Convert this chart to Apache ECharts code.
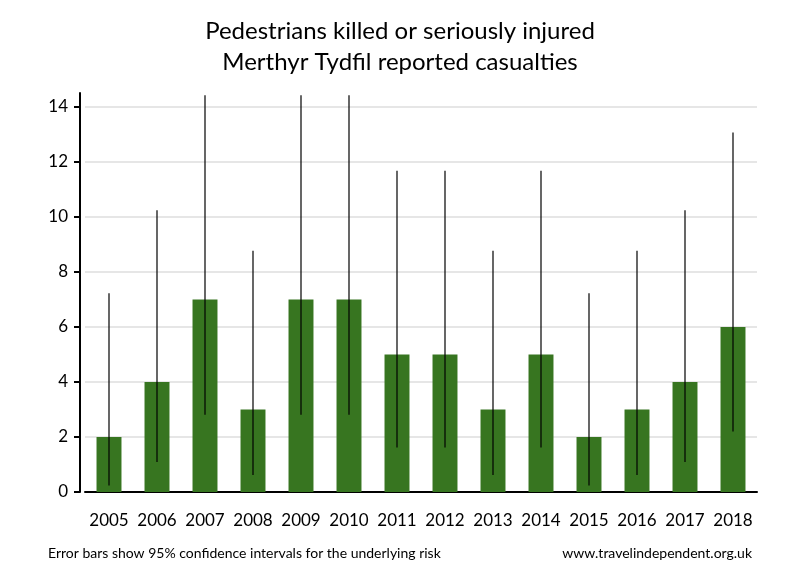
<!DOCTYPE html>
<html>
<head>
<meta charset="utf-8">
<script src="https://cdn.jsdelivr.net/npm/echarts@6/dist/echarts.min.js"></script>
<style>html,body{margin:0;padding:0;background:#fff}#c{width:800px;height:580px}</style>
</head>
<body>
<div id="c"></div>
<script>
var years = ['2005','2006','2007','2008','2009','2010','2011','2012','2013','2014','2015','2016','2017','2018'];
var casualties = [2, 4, 7, 3, 7, 7, 5, 5, 3, 5, 2, 3, 4, 6];
var ciLower = [0.24, 1.09, 2.81, 0.62, 2.81, 2.81, 1.62, 1.62, 0.62, 1.62, 0.24, 0.62, 1.09, 2.20];
var ciUpper = [7.22, 10.24, 14.42, 8.77, 14.42, 14.42, 11.67, 11.67, 8.77, 11.67, 7.22, 8.77, 10.24, 13.06];
var yTicks = [0, 2, 4, 6, 8, 10, 12, 14];
var titleLines = ['Pedestrians killed or seriously injured', 'Merthyr Tydfil reported casualties'];
var footLeft = 'Error bars show 95% confidence intervals for the underlying risk';
var footRight = 'www.travelindependent.org.uk';

var FONT = 'Lato, "Open Sans", sans-serif';
var chart = echarts.init(document.getElementById('c'), null, {renderer: 'canvas'});
var errData = years.map(function (y, i) { return [i, ciLower[i], ciUpper[i]]; });

chart.setOption({
  animation: false,
  backgroundColor: '#ffffff',
  title: [
    {text: titleLines.join('\n'), left: 'center', top: 16, padding: 0,
     textStyle: {fontFamily: FONT, fontSize: 24, fontWeight: 'normal', color: '#000', lineHeight: 31}},
    {text: footLeft, left: 48, top: 546, padding: 0,
     textStyle: {fontFamily: FONT, fontSize: 14, fontWeight: 'normal', color: '#000'}},
    {text: footRight, right: 48, top: 546, padding: 0,
     textStyle: {fontFamily: FONT, fontSize: 14, fontWeight: 'normal', color: '#000'}}
  ],
  grid: {left: 85, right: 43, top: 93, bottom: 88, containLabel: false},
  xAxis: {
    type: 'category', data: years, boundaryGap: true,
    axisLine: {lineStyle: {color: '#000', width: 2}},
    axisTick: {show: false},
    axisLabel: {fontFamily: FONT, fontSize: 17, color: '#000', margin: 20, interval: 0}
  },
  yAxis: {
    type: 'value', min: 0, max: 14.5, offset: 5,
    axisLine: {show: true, lineStyle: {color: '#000', width: 2}},
    axisTick: {show: true, length: 6, lineStyle: {color: '#000', width: 2}, customValues: yTicks},
    axisLabel: {fontFamily: FONT, fontSize: 17, color: '#000', margin: 12, customValues: yTicks},
    splitLine: {show: true, lineStyle: {color: '#e6e6e6', width: 2}}
  },
  series: [
    {type: 'bar', data: casualties, barWidth: '52%', itemStyle: {color: '#377520'}, z: 2},
    {type: 'custom', data: errData, z: 5,
     renderItem: function (params, api) {
       var lo = api.coord([api.value(0), api.value(1)]);
       var hi = api.coord([api.value(0), api.value(2)]);
       return {type: 'line', shape: {x1: lo[0], y1: lo[1], x2: hi[0], y2: hi[1]},
               style: {stroke: '#000', lineWidth: 1.2}};
     }}
  ]
});
</script>
</body>
</html>
